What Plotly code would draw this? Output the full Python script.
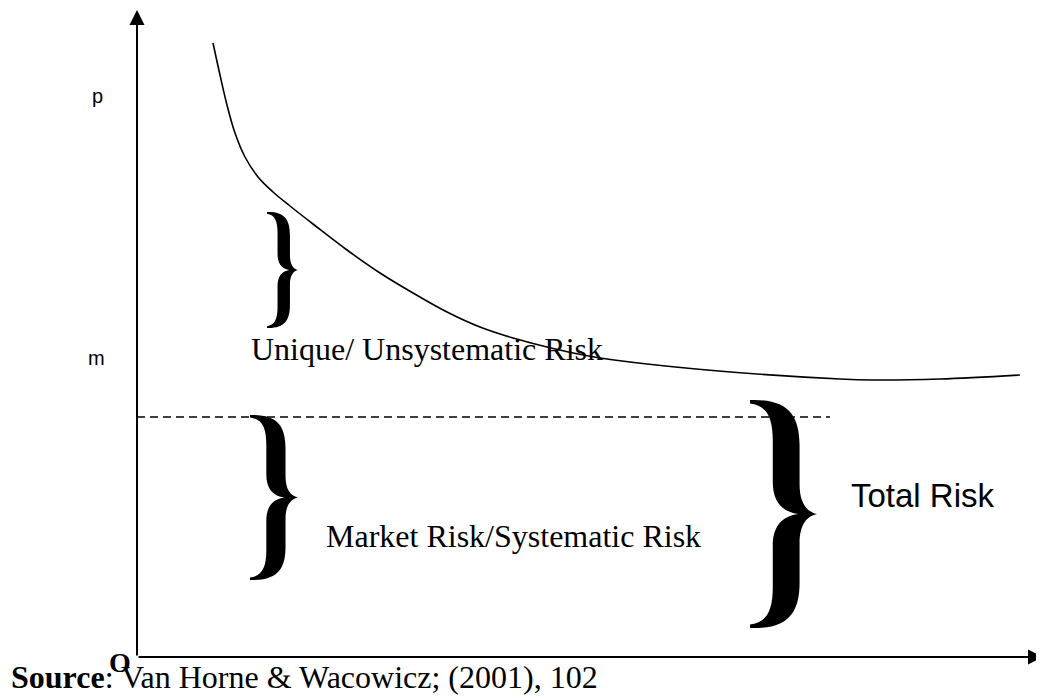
import plotly.graph_objects as go

# total risk curve (x = number of securities, y = risk)
risk_x = [76, 83, 90, 98, 108, 121, 136, 153, 176, 210, 243, 276, 310, 343, 376, 410, 436, 463, 570, 703, 736, 803, 883]
risk_y = [614, 582, 552, 524, 500, 480, 465, 451, 433, 407, 384, 364, 345, 330, 319, 310, 304, 299, 287, 278, 277, 278, 282]

# market risk level (dashed line)
market_x = [0, 693]
market_y = [240, 240]

SERIF = "Liberation Serif, Times New Roman, serif"
SANS = "Liberation Sans, Arial, sans-serif"

fig = go.Figure()

fig.add_trace(go.Scatter(x=risk_x, y=risk_y, mode="lines",
                         line=dict(color="black", width=1.6, shape="spline", smoothing=1.0),
                         hoverinfo="skip", showlegend=False))
fig.add_trace(go.Scatter(x=market_x, y=market_y, mode="lines",
                         line=dict(color="black", width=1.4, dash="8px,5px"),
                         hoverinfo="skip", showlegend=False))

# curly brace outline, u: 0 left -> 1 tip, v: 0 top -> 1 bottom
BRACE = [
    ("M", [(0, 0)]),
    ("C", [(0.55, -0.005), (0.74, 0.06), (0.74, 0.2)]),
    ("L", [(0.74, 0.37)]),
    ("C", [(0.74, 0.45), (0.84, 0.49), (1, 0.5)]),
    ("C", [(0.84, 0.51), (0.74, 0.55), (0.74, 0.63)]),
    ("L", [(0.74, 0.8)]),
    ("C", [(0.74, 0.94), (0.55, 1.005), (0, 1)]),
    ("L", [(0, 0.985)]),
    ("C", [(0.26, 0.975), (0.34, 0.92), (0.34, 0.82)]),
    ("L", [(0.34, 0.64)]),
    ("C", [(0.34, 0.56), (0.46, 0.51), (0.72, 0.5)]),
    ("C", [(0.46, 0.49), (0.34, 0.44), (0.34, 0.36)]),
    ("L", [(0.34, 0.18)]),
    ("C", [(0.34, 0.08), (0.26, 0.025), (0, 0.015)]),
]


def brace_path(x0, x1, ytop, ybot):
    parts = []
    for cmd, pts in BRACE:
        coords = " ".join(f"{x0 + u * (x1 - x0):.2f},{ytop + v * (ybot - ytop):.2f}" for u, v in pts)
        parts.append(f"{cmd} {coords}")
    return " ".join(parts) + " Z"


for x0, x1, yt, yb in [(130, 161, 445, 329), (113, 161, 242, 77), (613, 680, 257, 29)]:
    fig.add_shape(type="path", path=brace_path(x0, x1, yt, yb), xref="x", yref="y",
                  fillcolor="black", line=dict(width=0))

# axes with arrow heads
fig.add_annotation(x=906, y=0, ax=0, ay=0, xref="x", yref="y", axref="x", ayref="y",
                   text="", showarrow=True, arrowhead=2, arrowsize=1.5, arrowwidth=2, arrowcolor="black")
fig.add_annotation(x=0, y=647, ax=0, ay=0, xref="x", yref="y", axref="x", ayref="y",
                   text="", showarrow=True, arrowhead=2, arrowsize=1.5, arrowwidth=2, arrowcolor="black")

labels = [
    (-40, 561, "p", SANS, 20, "center"),
    (-41, 299, "m", SANS, 20, "center"),
    (112, 308, "Unique/ Unsystematic Risk", SERIF, 32, "left"),
    (187, 121, "Market Risk/Systematic Risk", SERIF, 32, "left"),
    (712, 162, "Total Risk", SANS, 33, "left"),
    (-17, -5, "<b>O</b>", SERIF, 28, "center"),
    (-128, -20, "<b>Source</b>: Van Horne &amp; Wacowicz; (2001), 102", SERIF, 32, "left"),
]
for x, y, txt, fam, size, anchor in labels:
    fig.add_annotation(x=x, y=y, xref="x", yref="y", text=txt, showarrow=False,
                       xanchor=anchor, yanchor="middle",
                       font=dict(family=fam, size=size, color="black"))

# page body has an 8px margin, so the figure is 8px smaller each way
fig.update_xaxes(range=[-129, 907], visible=False)
fig.update_yaxes(range=[-41, 649], visible=False)
fig.update_layout(width=1036, height=690, margin=dict(l=0, r=0, t=0, b=0),
                  plot_bgcolor="white", paper_bgcolor="white", showlegend=False)

fig.write_html("out.html")
